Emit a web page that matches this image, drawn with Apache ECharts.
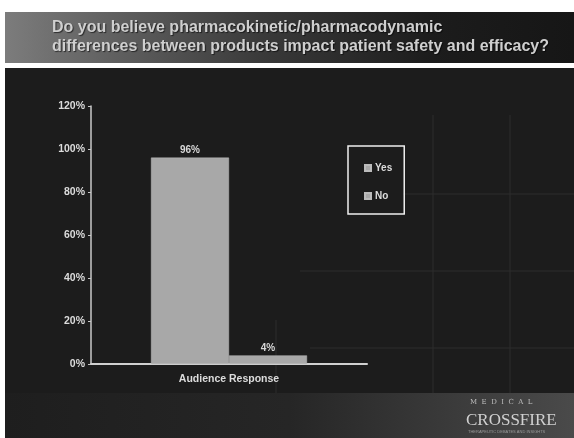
<!DOCTYPE html>
<html><head><meta charset="utf-8">
<script src="https://cdn.jsdelivr.net/npm/echarts@6/dist/echarts.min.js"></script>
<style>html,body{margin:0;padding:0;background:#fff}#c{width:574px;height:438px}</style>
</head><body><div id="c"></div>
<script>
var titleLines = ['Do you believe pharmacokinetic/pharmacodynamic', 'differences between products impact patient safety and efficacy?'];
var categories = ['Audience Response'];
var seriesNames = ['Yes', 'No'];
var yesValues = [96];
var noValues = [4];
var yTicks = [0, 20, 40, 60, 80, 100, 120];

var chart = echarts.init(document.getElementById('c'), null, {renderer: 'canvas'});
var labelStyle = {show: true, position: 'top', color: '#d8d8d8', fontFamily: 'Liberation Sans', fontWeight: 'bold', fontSize: 10, formatter: '{c}%', distance: 2};
chart.setOption({
  backgroundColor: '#ffffff',
  animation: false,
  graphic: [
    {type: 'rect', shape: {x: 5, y: 12, width: 569, height: 51}, style: {fill: new echarts.graphic.LinearGradient(0, 0, 1, 0, [{offset: 0, color: '#7c7c7c'}, {offset: 0.45, color: '#3a3a3a'}, {offset: 0.75, color: '#1c1c1c'}, {offset: 1, color: '#161616'}])}, z: -10},
    {type: 'rect', shape: {x: 5, y: 68, width: 569, height: 325}, style: {fill: '#1c1c1c'}, z: -10},
    {type: 'rect', shape: {x: 5, y: 393, width: 569, height: 45}, style: {fill: new echarts.graphic.LinearGradient(0, 0, 1, 0, [{offset: 0, color: '#1e1e1e'}, {offset: 0.5, color: '#262626'}, {offset: 1, color: '#4a4a4a'}])}, z: -10},
    {type: 'line', shape: {x1: 433, y1: 115, x2: 433, y2: 393}, style: {stroke: '#2c2c2c', lineWidth: 1}, z: -9},
    {type: 'line', shape: {x1: 510, y1: 115, x2: 510, y2: 393}, style: {stroke: '#2c2c2c', lineWidth: 1}, z: -9},
    {type: 'line', shape: {x1: 403, y1: 194, x2: 574, y2: 194}, style: {stroke: '#2c2c2c', lineWidth: 1}, z: -9},
    {type: 'line', shape: {x1: 300, y1: 271, x2: 574, y2: 271}, style: {stroke: '#2c2c2c', lineWidth: 1}, z: -9},
    {type: 'line', shape: {x1: 310, y1: 348, x2: 574, y2: 348}, style: {stroke: '#2c2c2c', lineWidth: 1}, z: -9},
    {type: 'line', shape: {x1: 276, y1: 320, x2: 276, y2: 393}, style: {stroke: '#2c2c2c', lineWidth: 1}, z: -9},
    {type: 'text', left: 52, top: 18, style: {text: titleLines.join('\n'), fill: '#cfcfcf', font: 'bold 16px "Liberation Sans"', lineHeight: 19, textShadowColor: 'rgba(0,0,0,0.6)', textShadowOffsetX: 1, textShadowOffsetY: 1, textShadowBlur: 1}},
    {type: 'text', left: 470, top: 399, style: {text: 'M  E  D  I  C  A  L', fill: '#bdbdbd', font: '7px "DejaVu Serif"'}},
    {type: 'text', left: 466, top: 412, style: {text: 'CROSSFIRE', fill: '#d0d0d0', font: '17px "Liberation Serif"'}},
    {type: 'text', left: 468, top: 430, style: {text: 'THERAPEUTIC DEBATES AND INSIGHTS', fill: '#9a9a9a', font: '4px "Liberation Sans"'}}
  ],
  legend: {
    orient: 'vertical', left: 348, top: 146, data: seriesNames,
    itemWidth: 6, itemHeight: 6, itemGap: 18, icon: 'rect',
    borderColor: '#eeeeee', borderWidth: 1.5, padding: [17, 12, 13, 16],
    textStyle: {color: '#dcdcdc', fontFamily: 'Liberation Sans', fontWeight: 'bold', fontSize: 10, padding: [0, 0, 0, -1]}
  },
  grid: {left: 91, right: 207, top: 106, bottom: 74, containLabel: false},
  xAxis: {
    type: 'category', data: categories,
    axisLine: {lineStyle: {color: '#d0d0d0', width: 2}},
    axisTick: {show: false},
    axisLabel: {color: '#dcdcdc', fontFamily: 'Liberation Sans', fontWeight: 'bold', fontSize: 10.5, margin: 10}
  },
  yAxis: {
    type: 'value', min: yTicks[0], max: yTicks[yTicks.length - 1], interval: 20,
    axisLine: {show: true, lineStyle: {color: '#c8c8c8', width: 1.5}},
    axisTick: {show: true, length: 3, lineStyle: {color: '#c8c8c8'}},
    splitLine: {show: false},
    axisLabel: {color: '#dcdcdc', fontFamily: 'Liberation Sans', fontWeight: 'bold', fontSize: 10.5, margin: 6, formatter: '{value}%'}
  },
  series: [
    {name: seriesNames[0], type: 'bar', data: yesValues, barWidth: 78, barGap: '0%', itemStyle: {color: '#a8a8a8', borderColor: '#bbbbbb', borderWidth: 0.5}, label: labelStyle},
    {name: seriesNames[1], type: 'bar', data: noValues, barWidth: 78, itemStyle: {color: '#a8a8a8', borderColor: '#bbbbbb', borderWidth: 0.5}, label: labelStyle}
  ]
});
</script></body></html>
